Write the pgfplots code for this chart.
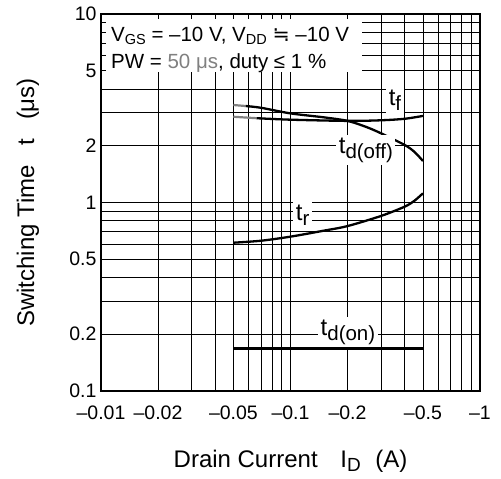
\documentclass[border=0pt]{standalone}
\usepackage{pgfplots}
\pgfplotsset{compat=1.18}
\usepackage{fontspec}
\setmainfont{Liberation Sans}
\newfontfamily\dejavu{DejaVu Sans}
% subscript: size, drop, text
\newcommand{\sub}[3]{\raisebox{-#2}{\fontsize{#1}{#1}\selectfont #3}}
\newcommand{\fs}[1]{\fontsize{#1}{#1}\selectfont}

\begin{document}
\begin{tikzpicture}
\useasboundingbox (-101bp,-88bp) rectangle (400bp,391bp);
\begin{axis}[
    xmode=log, ymode=log,
    scale only axis,
    width=379bp, height=377bp,
    xmin=0.01, xmax=1, ymin=0.1, ymax=10,
    xtick={0.01,0.02,0.05,0.1,0.2,0.5,1},
    xticklabels={–0.01,–0.02,–0.05,–0.1,–0.2,–0.5,–1},
    minor xtick={0.03,0.04,0.06,0.07,0.08,0.09,0.3,0.4,0.6,0.7,0.8,0.9},
    ytick={0.1,0.2,0.5,1,2,5,10},
    yticklabels={0.1,0.2,0.5,1,2,5,10},
    minor ytick={0.3,0.4,0.6,0.7,0.8,0.9,3,4,6,7,8,9},
    grid=both,
    major grid style={black, line width=0.8bp},
    minor grid style={black, line width=0.8bp},
    major tick length=0pt, minor tick length=0pt,
    axis line style={line width=2.2bp},
    tick label style={font=\fs{19.5bp}},
    xticklabel style={yshift=-11.5bp},
    yticklabel style={xshift=-1bp},
    label style={font=\fs{24bp}},
    xlabel={Drain Current\hspace{0.95em}I\sub{19bp}{4bp}{D}\hspace{0.6em}(A)},
    xlabel style={at={(axis description cs:0.5,0)}, anchor=center, yshift=-70bp},
    ylabel={Switching Time\hspace{0.8em}t\hspace{0.8em}(μs)},
    ylabel style={at={(axis description cs:0,0.5)}, anchor=center, yshift=73bp},
  ]
  \addplot[gray, line width=2.2bp] coordinates {(0.05,3.29) (0.058,3.25)};
  \addplot[gray, line width=2.2bp] coordinates {(0.05,2.85) (0.0664,2.80)};
  \addplot[black, line width=2.3bp, smooth] coordinates {
    (0.058,3.25) (0.07,3.18) (0.1,2.97) (0.15,2.83) (0.2,2.71) (0.25,2.52)
    (0.3,2.33) (0.4,2.02) (0.45,1.86) (0.5,1.66)};
  \addplot[black, line width=2.3bp, smooth] coordinates {
    (0.0664,2.80) (0.1,2.75) (0.2,2.71) (0.3,2.73) (0.4,2.78) (0.5,2.88)};
  \addplot[black, line width=2.3bp, smooth] coordinates {
    (0.05,0.612) (0.07,0.627) (0.1,0.659) (0.15,0.709) (0.2,0.750)
    (0.3,0.848) (0.4,0.950) (0.45,1.02) (0.5,1.119)};
  \addplot[black, line width=2.3bp] coordinates {(0.05,0.168) (0.5,0.168)};

  \fill[white] ([xshift=5bp,yshift=-5bp]rel axis cs:0,1) rectangle (axis cs:0.238,4.92);
  \node[anchor=base west, inner sep=0pt, xshift=10bp, yshift=-27.5bp, font=\fs{20.5bp}]
    at (rel axis cs:0,1) {V\sub{14.5bp}{3.5bp}{GS} = –10 V, V\sub{14.5bp}{3.5bp}{DD} {\dejavu ≒} –10 V};
  \node[anchor=base west, inner sep=0pt, xshift=10bp, yshift=-54.5bp, font=\fs{20.5bp}]
    at (rel axis cs:0,1) {PW = {\color{gray}50 μs}, duty ≤ 1 \%};

  \tikzset{lbl/.style={fill=white, inner sep=2.5bp, font=\fs{24bp}}}
  \node[lbl] at (axis cs:0.356,3.50) {t\sub{20.5bp}{5bp}{f}};
  \node[lbl] at (axis cs:0.25,1.90) {t\sub{20.5bp}{5bp}{d(off)}};
  \node[lbl] at (axis cs:0.116,0.859) {t\sub{20.5bp}{5bp}{r}};
  \node[lbl] at (axis cs:0.201,0.2056) {t\sub{20.5bp}{5bp}{d(on)}};

  \draw[line width=2.2bp] (rel axis cs:0,0) rectangle (rel axis cs:1,1);
\end{axis}
\end{tikzpicture}
\end{document}
